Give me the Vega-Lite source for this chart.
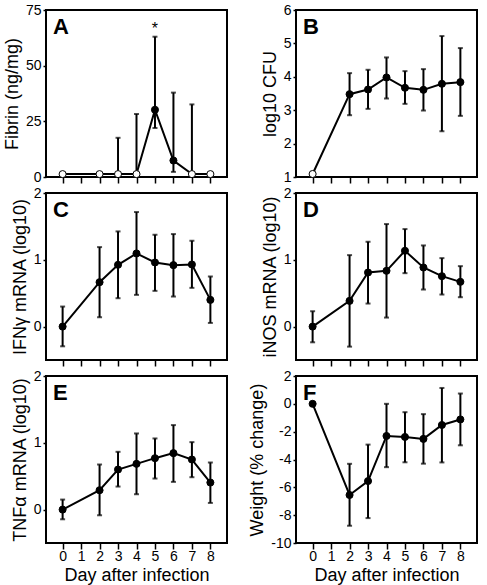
{
  "$schema": "https://vega.github.io/schema/vega-lite/v6.json",
  "padding": {"left": 2, "top": 2, "right": 5, "bottom": 0},
  "background": "white",
  "data": {"values": [
    {"p": "A", "day": 0, "v": 1.3, "f": "o"},
    {"p": "A", "day": 2, "v": 1.3, "f": "o"},
    {"p": "A", "day": 3, "v": 1.3, "lo": 1.3, "hi": 17.6, "f": "o"},
    {"p": "A", "day": 4, "v": 1.3, "lo": 1.3, "hi": 28.3, "f": "o"},
    {"p": "A", "day": 5, "v": 30.2, "lo": 22, "hi": 63, "f": "c", "sig": "*"},
    {"p": "A", "day": 6, "v": 7.4, "lo": 2.3, "hi": 37.9, "f": "c"},
    {"p": "A", "day": 7, "v": 1.3, "lo": 1.3, "hi": 32.6, "f": "o"},
    {"p": "A", "day": 8, "v": 1.3, "f": "o"},
    {"p": "B", "day": 0, "v": 1.09, "f": "o"},
    {"p": "B", "day": 2, "v": 3.48, "lo": 2.85, "hi": 4.11, "f": "c"},
    {"p": "B", "day": 3, "v": 3.62, "lo": 3.04, "hi": 4.21, "f": "c"},
    {"p": "B", "day": 4, "v": 3.98, "lo": 3.35, "hi": 4.58, "f": "c"},
    {"p": "B", "day": 5, "v": 3.67, "lo": 3.19, "hi": 4.17, "f": "c"},
    {"p": "B", "day": 6, "v": 3.61, "lo": 2.99, "hi": 4.23, "f": "c"},
    {"p": "B", "day": 7, "v": 3.79, "lo": 2.37, "hi": 5.22, "f": "c"},
    {"p": "B", "day": 8, "v": 3.84, "lo": 2.83, "hi": 4.86, "f": "c"},
    {"p": "C", "day": 0, "v": 0, "lo": -0.295, "hi": 0.3, "f": "c"},
    {"p": "C", "day": 2, "v": 0.665, "lo": 0.14, "hi": 1.19, "f": "c"},
    {"p": "C", "day": 3, "v": 0.925, "lo": 0.425, "hi": 1.425, "f": "c"},
    {"p": "C", "day": 4, "v": 1.095, "lo": 0.475, "hi": 1.715, "f": "c"},
    {"p": "C", "day": 5, "v": 0.96, "lo": 0.535, "hi": 1.375, "f": "c"},
    {"p": "C", "day": 6, "v": 0.92, "lo": 0.45, "hi": 1.385, "f": "c"},
    {"p": "C", "day": 7, "v": 0.93, "lo": 0.58, "hi": 1.285, "f": "c"},
    {"p": "C", "day": 8, "v": 0.4, "lo": 0.055, "hi": 0.75, "f": "c"},
    {"p": "D", "day": 0, "v": 0, "lo": -0.235, "hi": 0.23, "f": "c"},
    {"p": "D", "day": 2, "v": 0.385, "lo": -0.3, "hi": 1.07, "f": "c"},
    {"p": "D", "day": 3, "v": 0.81, "lo": 0.345, "hi": 1.27, "f": "c"},
    {"p": "D", "day": 4, "v": 0.835, "lo": 0.135, "hi": 1.535, "f": "c"},
    {"p": "D", "day": 5, "v": 1.135, "lo": 0.8, "hi": 1.46, "f": "c"},
    {"p": "D", "day": 6, "v": 0.885, "lo": 0.555, "hi": 1.215, "f": "c"},
    {"p": "D", "day": 7, "v": 0.755, "lo": 0.48, "hi": 1.025, "f": "c"},
    {"p": "D", "day": 8, "v": 0.67, "lo": 0.44, "hi": 0.905, "f": "c"},
    {"p": "E", "day": 0, "v": 0, "lo": -0.145, "hi": 0.15, "f": "c"},
    {"p": "E", "day": 2, "v": 0.29, "lo": -0.085, "hi": 0.675, "f": "c"},
    {"p": "E", "day": 3, "v": 0.6, "lo": 0.345, "hi": 0.865, "f": "c"},
    {"p": "E", "day": 4, "v": 0.685, "lo": 0.23, "hi": 1.14, "f": "c"},
    {"p": "E", "day": 5, "v": 0.77, "lo": 0.465, "hi": 1.065, "f": "c"},
    {"p": "E", "day": 6, "v": 0.845, "lo": 0.415, "hi": 1.265, "f": "c"},
    {"p": "E", "day": 7, "v": 0.75, "lo": 0.485, "hi": 1.01, "f": "c"},
    {"p": "E", "day": 8, "v": 0.405, "lo": 0.1, "hi": 0.705, "f": "c"},
    {"p": "F", "day": 0, "v": 0, "f": "c"},
    {"p": "F", "day": 2, "v": -6.55, "lo": -8.76, "hi": -4.31, "f": "c"},
    {"p": "F", "day": 3, "v": -5.55, "lo": -8.21, "hi": -2.93, "f": "c"},
    {"p": "F", "day": 4, "v": -2.31, "lo": -4.55, "hi": 0, "f": "c"},
    {"p": "F", "day": 5, "v": -2.38, "lo": -4.2, "hi": -0.6, "f": "c"},
    {"p": "F", "day": 6, "v": -2.52, "lo": -4.3, "hi": -0.74, "f": "c"},
    {"p": "F", "day": 7, "v": -1.52, "lo": -4.21, "hi": 1.14, "f": "c"},
    {"p": "F", "day": 8, "v": -1.12, "lo": -2.98, "hi": 0.74, "f": "c"}
  ]},
  "columns": 2,
  "spacing": {"row": 16, "column": 69},
  "bounds": "flush",
  "concat": [
    {
      "title": {"text": "A"},
      "width": 181, "height": 167,
      "transform": [{"filter": "datum.p === 'A'"}],
      "encoding": {"x": {"field": "day", "type": "quantitative", "scale": {"domain": [-0.9, 8.9], "nice": false, "zero": false}, "axis": {"values": [0,1,2,3,4,5,6,7,8], "labels": false, "title": null}}},
      "layer": [
        {"mark": {"type": "line", "color": "black", "strokeWidth": 2}, "encoding": {"y": {"field": "v", "type": "quantitative", "scale": {"domain": [0, 75], "nice": false, "zero": false}, "axis": {"values": [0, 25, 50, 75], "labelExpr": "'' + datum.value", "labelOverlap": false}, "title": "Fibrin (ng/mg)"}}},
        {"mark": {"type": "rule", "color": "black", "strokeWidth": 2}, "encoding": {"y": {"field": "lo", "type": "quantitative", "title": "Fibrin (ng/mg)", "axis": {"values": [0, 25, 50, 75], "labelExpr": "'' + datum.value", "labelOverlap": false}}, "y2": {"field": "hi"}}},
        {"mark": {"type": "tick", "orient": "horizontal", "color": "black", "size": 5, "thickness": 2}, "encoding": {"y": {"field": "lo", "type": "quantitative", "title": "Fibrin (ng/mg)", "axis": {"values": [0, 25, 50, 75], "labelExpr": "'' + datum.value", "labelOverlap": false}}}},
        {"mark": {"type": "tick", "orient": "horizontal", "color": "black", "size": 5, "thickness": 2}, "encoding": {"y": {"field": "hi", "type": "quantitative", "title": "Fibrin (ng/mg)", "axis": {"values": [0, 25, 50, 75], "labelExpr": "'' + datum.value", "labelOverlap": false}}}},
        {"mark": {"type": "point", "shape": "circle", "filled": true, "size": 50, "stroke": "black", "strokeWidth": 1, "opacity": 1}, "encoding": {"y": {"field": "v", "type": "quantitative", "title": "Fibrin (ng/mg)", "axis": {"values": [0, 25, 50, 75], "labelExpr": "'' + datum.value", "labelOverlap": false}}, "fill": {"field": "f", "type": "nominal", "scale": {"domain": ["c", "o"], "range": ["black", "white"]}, "legend": null}}},
        {"transform": [{"filter": "datum.sig"}], "mark": {"type": "text", "fontSize": 16, "baseline": "alphabetic", "dy": -3, "color": "black"}, "encoding": {"y": {"field": "hi", "type": "quantitative", "title": "Fibrin (ng/mg)", "axis": {"values": [0, 25, 50, 75], "labelExpr": "'' + datum.value", "labelOverlap": false}}, "text": {"field": "sig"}}}
      ]
    },
    {
      "title": {"text": "B"},
      "width": 181, "height": 167,
      "transform": [{"filter": "datum.p === 'B'"}],
      "encoding": {"x": {"field": "day", "type": "quantitative", "scale": {"domain": [-0.9, 8.9], "nice": false, "zero": false}, "axis": {"values": [0,1,2,3,4,5,6,7,8], "labels": false, "title": null}}},
      "layer": [
        {"mark": {"type": "line", "color": "black", "strokeWidth": 2}, "encoding": {"y": {"field": "v", "type": "quantitative", "scale": {"domain": [1, 6], "nice": false, "zero": false}, "axis": {"values": [1, 2, 3, 4, 5, 6], "labelExpr": "'' + datum.value", "labelOverlap": false}, "title": "log10 CFU"}}},
        {"mark": {"type": "rule", "color": "black", "strokeWidth": 2}, "encoding": {"y": {"field": "lo", "type": "quantitative", "title": "log10 CFU", "axis": {"values": [1, 2, 3, 4, 5, 6], "labelExpr": "'' + datum.value", "labelOverlap": false}}, "y2": {"field": "hi"}}},
        {"mark": {"type": "tick", "orient": "horizontal", "color": "black", "size": 5, "thickness": 2}, "encoding": {"y": {"field": "lo", "type": "quantitative", "title": "log10 CFU", "axis": {"values": [1, 2, 3, 4, 5, 6], "labelExpr": "'' + datum.value", "labelOverlap": false}}}},
        {"mark": {"type": "tick", "orient": "horizontal", "color": "black", "size": 5, "thickness": 2}, "encoding": {"y": {"field": "hi", "type": "quantitative", "title": "log10 CFU", "axis": {"values": [1, 2, 3, 4, 5, 6], "labelExpr": "'' + datum.value", "labelOverlap": false}}}},
        {"mark": {"type": "point", "shape": "circle", "filled": true, "size": 50, "stroke": "black", "strokeWidth": 1, "opacity": 1}, "encoding": {"y": {"field": "v", "type": "quantitative", "title": "log10 CFU", "axis": {"values": [1, 2, 3, 4, 5, 6], "labelExpr": "'' + datum.value", "labelOverlap": false}}, "fill": {"field": "f", "type": "nominal", "scale": {"domain": ["c", "o"], "range": ["black", "white"]}, "legend": null}}}
      ]
    },
    {
      "title": {"text": "C"},
      "width": 181, "height": 167,
      "transform": [{"filter": "datum.p === 'C'"}],
      "encoding": {"x": {"field": "day", "type": "quantitative", "scale": {"domain": [-0.9, 8.9], "nice": false, "zero": false}, "axis": {"values": [0,1,2,3,4,5,6,7,8], "labels": false, "title": null}}},
      "layer": [
        {"mark": {"type": "line", "color": "black", "strokeWidth": 2}, "encoding": {"y": {"field": "v", "type": "quantitative", "scale": {"domain": [-0.5, 2], "nice": false, "zero": false}, "axis": {"values": [0, 1, 2], "labelExpr": "'' + datum.value", "labelOverlap": false}, "title": "IFNγ mRNA (log10)"}}},
        {"mark": {"type": "rule", "color": "black", "strokeWidth": 2}, "encoding": {"y": {"field": "lo", "type": "quantitative", "title": "IFNγ mRNA (log10)", "axis": {"values": [0, 1, 2], "labelExpr": "'' + datum.value", "labelOverlap": false}}, "y2": {"field": "hi"}}},
        {"mark": {"type": "tick", "orient": "horizontal", "color": "black", "size": 5, "thickness": 2}, "encoding": {"y": {"field": "lo", "type": "quantitative", "title": "IFNγ mRNA (log10)", "axis": {"values": [0, 1, 2], "labelExpr": "'' + datum.value", "labelOverlap": false}}}},
        {"mark": {"type": "tick", "orient": "horizontal", "color": "black", "size": 5, "thickness": 2}, "encoding": {"y": {"field": "hi", "type": "quantitative", "title": "IFNγ mRNA (log10)", "axis": {"values": [0, 1, 2], "labelExpr": "'' + datum.value", "labelOverlap": false}}}},
        {"mark": {"type": "point", "shape": "circle", "filled": true, "size": 50, "stroke": "black", "strokeWidth": 1, "opacity": 1}, "encoding": {"y": {"field": "v", "type": "quantitative", "title": "IFNγ mRNA (log10)", "axis": {"values": [0, 1, 2], "labelExpr": "'' + datum.value", "labelOverlap": false}}, "fill": {"field": "f", "type": "nominal", "scale": {"domain": ["c", "o"], "range": ["black", "white"]}, "legend": null}}}
      ]
    },
    {
      "title": {"text": "D"},
      "width": 181, "height": 167,
      "transform": [{"filter": "datum.p === 'D'"}],
      "encoding": {"x": {"field": "day", "type": "quantitative", "scale": {"domain": [-0.9, 8.9], "nice": false, "zero": false}, "axis": {"values": [0,1,2,3,4,5,6,7,8], "labels": false, "title": null}}},
      "layer": [
        {"mark": {"type": "line", "color": "black", "strokeWidth": 2}, "encoding": {"y": {"field": "v", "type": "quantitative", "scale": {"domain": [-0.5, 2], "nice": false, "zero": false}, "axis": {"values": [0, 1, 2], "labelExpr": "'' + datum.value", "labelOverlap": false}, "title": "iNOS mRNA (log10)"}}},
        {"mark": {"type": "rule", "color": "black", "strokeWidth": 2}, "encoding": {"y": {"field": "lo", "type": "quantitative", "title": "iNOS mRNA (log10)", "axis": {"values": [0, 1, 2], "labelExpr": "'' + datum.value", "labelOverlap": false}}, "y2": {"field": "hi"}}},
        {"mark": {"type": "tick", "orient": "horizontal", "color": "black", "size": 5, "thickness": 2}, "encoding": {"y": {"field": "lo", "type": "quantitative", "title": "iNOS mRNA (log10)", "axis": {"values": [0, 1, 2], "labelExpr": "'' + datum.value", "labelOverlap": false}}}},
        {"mark": {"type": "tick", "orient": "horizontal", "color": "black", "size": 5, "thickness": 2}, "encoding": {"y": {"field": "hi", "type": "quantitative", "title": "iNOS mRNA (log10)", "axis": {"values": [0, 1, 2], "labelExpr": "'' + datum.value", "labelOverlap": false}}}},
        {"mark": {"type": "point", "shape": "circle", "filled": true, "size": 50, "stroke": "black", "strokeWidth": 1, "opacity": 1}, "encoding": {"y": {"field": "v", "type": "quantitative", "title": "iNOS mRNA (log10)", "axis": {"values": [0, 1, 2], "labelExpr": "'' + datum.value", "labelOverlap": false}}, "fill": {"field": "f", "type": "nominal", "scale": {"domain": ["c", "o"], "range": ["black", "white"]}, "legend": null}}}
      ]
    },
    {
      "title": {"text": "E"},
      "width": 181, "height": 167,
      "transform": [{"filter": "datum.p === 'E'"}],
      "encoding": {"x": {"field": "day", "type": "quantitative", "scale": {"domain": [-0.9, 8.9], "nice": false, "zero": false}, "axis": {"values": [0,1,2,3,4,5,6,7,8], "title": "Day after infection"}}},
      "layer": [
        {"mark": {"type": "line", "color": "black", "strokeWidth": 2}, "encoding": {"y": {"field": "v", "type": "quantitative", "scale": {"domain": [-0.5, 2], "nice": false, "zero": false}, "axis": {"values": [0, 1, 2], "labelExpr": "'' + datum.value", "labelOverlap": false}, "title": "TNFα mRNA (log10)"}}},
        {"mark": {"type": "rule", "color": "black", "strokeWidth": 2}, "encoding": {"y": {"field": "lo", "type": "quantitative", "title": "TNFα mRNA (log10)", "axis": {"values": [0, 1, 2], "labelExpr": "'' + datum.value", "labelOverlap": false}}, "y2": {"field": "hi"}}},
        {"mark": {"type": "tick", "orient": "horizontal", "color": "black", "size": 5, "thickness": 2}, "encoding": {"y": {"field": "lo", "type": "quantitative", "title": "TNFα mRNA (log10)", "axis": {"values": [0, 1, 2], "labelExpr": "'' + datum.value", "labelOverlap": false}}}},
        {"mark": {"type": "tick", "orient": "horizontal", "color": "black", "size": 5, "thickness": 2}, "encoding": {"y": {"field": "hi", "type": "quantitative", "title": "TNFα mRNA (log10)", "axis": {"values": [0, 1, 2], "labelExpr": "'' + datum.value", "labelOverlap": false}}}},
        {"mark": {"type": "point", "shape": "circle", "filled": true, "size": 50, "stroke": "black", "strokeWidth": 1, "opacity": 1}, "encoding": {"y": {"field": "v", "type": "quantitative", "title": "TNFα mRNA (log10)", "axis": {"values": [0, 1, 2], "labelExpr": "'' + datum.value", "labelOverlap": false}}, "fill": {"field": "f", "type": "nominal", "scale": {"domain": ["c", "o"], "range": ["black", "white"]}, "legend": null}}}
      ]
    },
    {
      "title": {"text": "F"},
      "width": 181, "height": 167,
      "transform": [{"filter": "datum.p === 'F'"}],
      "encoding": {"x": {"field": "day", "type": "quantitative", "scale": {"domain": [-0.9, 8.9], "nice": false, "zero": false}, "axis": {"values": [0,1,2,3,4,5,6,7,8], "title": "Day after infection"}}},
      "layer": [
        {"mark": {"type": "line", "color": "black", "strokeWidth": 2}, "encoding": {"y": {"field": "v", "type": "quantitative", "scale": {"domain": [-10, 2], "nice": false, "zero": false}, "axis": {"values": [-10, -8, -6, -4, -2, 0, 2], "labelExpr": "'' + datum.value", "labelOverlap": false}, "title": "Weight (% change)"}}},
        {"mark": {"type": "rule", "color": "black", "strokeWidth": 2}, "encoding": {"y": {"field": "lo", "type": "quantitative", "title": "Weight (% change)", "axis": {"values": [-10, -8, -6, -4, -2, 0, 2], "labelExpr": "'' + datum.value", "labelOverlap": false}}, "y2": {"field": "hi"}}},
        {"mark": {"type": "tick", "orient": "horizontal", "color": "black", "size": 5, "thickness": 2}, "encoding": {"y": {"field": "lo", "type": "quantitative", "title": "Weight (% change)", "axis": {"values": [-10, -8, -6, -4, -2, 0, 2], "labelExpr": "'' + datum.value", "labelOverlap": false}}}},
        {"mark": {"type": "tick", "orient": "horizontal", "color": "black", "size": 5, "thickness": 2}, "encoding": {"y": {"field": "hi", "type": "quantitative", "title": "Weight (% change)", "axis": {"values": [-10, -8, -6, -4, -2, 0, 2], "labelExpr": "'' + datum.value", "labelOverlap": false}}}},
        {"mark": {"type": "point", "shape": "circle", "filled": true, "size": 50, "stroke": "black", "strokeWidth": 1, "opacity": 1}, "encoding": {"y": {"field": "v", "type": "quantitative", "title": "Weight (% change)", "axis": {"values": [-10, -8, -6, -4, -2, 0, 2], "labelExpr": "'' + datum.value", "labelOverlap": false}}, "fill": {"field": "f", "type": "nominal", "scale": {"domain": ["c", "o"], "range": ["black", "white"]}, "legend": null}}}
      ]
    }
  ],
  "config": {
    "font": "Liberation Sans",
    "view": {"stroke": "black", "strokeWidth": 2},
    "axis": {"grid": false, "domain": false, "labelFontSize": 14, "titleFontSize": 18, "titleFontWeight": "normal", "labelColor": "black", "titleColor": "black", "tickColor": "black", "tickWidth": 1.5, "labelPadding": 2, "labelOverlap": false, "labelFlush": false},
    "axisX": {"tickSize": 6, "titlePadding": 3, "labelPadding": 0},
    "axisY": {"tickSize": 3, "titlePadding": 4},
    "title": {"anchor": "start", "frame": "group", "fontSize": 22, "fontWeight": "bold", "color": "black", "offset": 0, "dx": 7, "dy": 40, "baseline": "alphabetic"}
  }
}
